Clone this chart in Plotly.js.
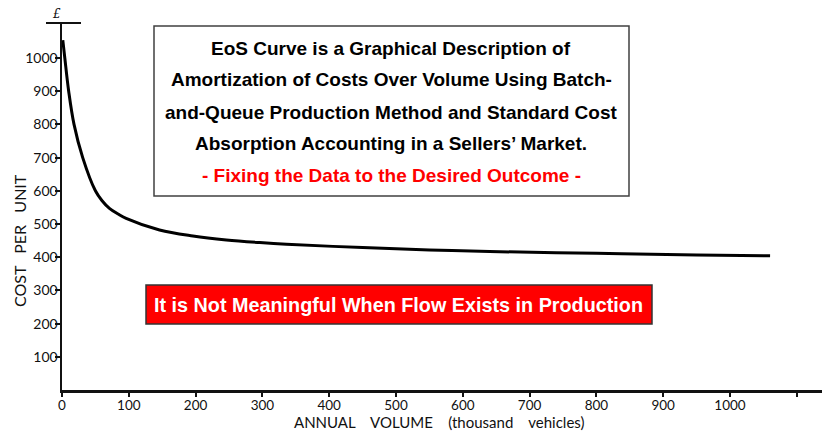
<!DOCTYPE html>
<html>
<head>
<meta charset="utf-8">
<script src="https://cdn.plot.ly/plotly-3.0.1.min.js"></script>
<style>html,body{margin:0;padding:0;background:#fff;}#chart{width:822px;height:432px;}</style>
</head>
<body>
<div id="chart"></div>
<script>
// Data
var volume = [1.2, 4.2, 10, 18, 31, 50, 60, 71, 84, 96, 146, 196, 246, 296, 336, 450, 550, 640, 800, 950, 1060];
var cost   = [1054, 1000, 900, 800, 700, 600, 570, 547, 530, 517, 482, 464, 452, 444, 439, 429, 422, 417, 412, 407, 404];
var xTickVals = [0, 100, 200, 300, 400, 500, 600, 700, 800, 900, 1000, 1100];
var xTickText = ['0', '100', '200', '300', '400', '500', '600', '700', '800', '900', '1000', ''];
var yTickVals = [100, 200, 300, 400, 500, 600, 700, 800, 900, 1000];
var yTickText = ['100', '200', '300', '400', '500', '600', '700', '800', '900', '1000'];
var titleLines = [
  'EoS Curve is a Graphical Description of',
  'Amortization of Costs Over Volume Using Batch-',
  'and-Queue Production Method and Standard Cost',
  'Absorption Accounting in a Sellers\u2019 Market.'
];
var titleRedLine = '- Fixing the Data to the Desired Outcome -';
var bannerText = 'It is Not Meaningful When Flow Exists in Production';
var xTitle = 'ANNUAL\u00a0\u00a0\u00a0\u00a0VOLUME\u00a0\u00a0\u00a0\u00a0(thousand\u00a0\u00a0\u00a0\u00a0vehicles)';
var yTitle = 'COST\u00a0\u00a0\u00a0PER\u00a0\u00a0\u00a0UNIT';

// layout geometry (pixels)
var L = 62, R = 0, T = 23, B = 42, W = 822, H = 432;
var pw = W - L - R, ph = H - T - B;
function px(x) { return (x - L) / pw; }
function py(y) { return (H - B - y) / ph; }

var trace = {
  x: volume, y: cost, type: 'scatter', mode: 'lines',
  line: {color: '#000', width: 3, shape: 'spline', smoothing: 1},
  cliponaxis: false, hoverinfo: 'skip'
};

var annotations = [];
var lineY = [48, 80, 112, 143];
titleLines.forEach(function (t, i) {
  annotations.push({xref: 'paper', yref: 'paper', x: px(391), y: py(lineY[i]), text: '<b>' + t + '</b>',
    showarrow: false, xanchor: 'center', yanchor: 'middle',
    font: {family: 'Liberation Sans, Arial, sans-serif', size: 19, color: '#000'}});
});
annotations.push({xref: 'paper', yref: 'paper', x: px(391), y: py(175), text: '<b>' + titleRedLine + '</b>',
  showarrow: false, xanchor: 'center', yanchor: 'middle',
  font: {family: 'Liberation Sans, Arial, sans-serif', size: 19, color: '#ff0000'}});
annotations.push({xref: 'paper', yref: 'paper', x: px(398), y: py(305), text: '<b>' + bannerText + '</b>',
  showarrow: false, xanchor: 'center', yanchor: 'middle',
  font: {family: 'Liberation Sans, Arial, sans-serif', size: 19.8, color: '#fff'}});
// axis titles
annotations.push({xref: 'paper', yref: 'paper', x: px(439), y: py(422), text: xTitle,
  showarrow: false, xanchor: 'center', yanchor: 'middle',
  font: {family: 'Lato, sans-serif', size: 15, color: '#111'}});
annotations.push({xref: 'paper', yref: 'paper', x: px(19.5), y: py(240.5), text: yTitle, textangle: -90,
  showarrow: false, xanchor: 'center', yanchor: 'middle',
  font: {family: 'Lato, sans-serif', size: 16, color: '#111'}});
annotations.push({xref: 'paper', yref: 'paper', x: px(56), y: py(14), text: '<i>\u00a3</i>',
  showarrow: false, xanchor: 'center', yanchor: 'middle',
  font: {family: 'DejaVu Serif, serif', size: 12, color: '#111'}});

var shapes = [
  {type: 'rect', xref: 'paper', yref: 'paper', x0: px(154), x1: px(629), y0: py(196), y1: py(26),
    line: {color: '#404040', width: 1.5}, fillcolor: '#fff', layer: 'below'},
  {type: 'rect', xref: 'paper', yref: 'paper', x0: px(146), x1: px(652), y0: py(324), y1: py(285),
    line: {color: '#333', width: 1.5}, fillcolor: '#ff0000', layer: 'above'},
  {type: 'line', xref: 'paper', yref: 'paper', x0: px(46), x1: px(81), y0: py(23), y1: py(23),
    line: {color: '#111', width: 2}}
];

var layout = {
  width: W, height: H,
  margin: {l: L, r: R, t: T, b: B, pad: 0},
  paper_bgcolor: '#fff', plot_bgcolor: '#fff',
  showlegend: false,
  font: {family: 'Lato, sans-serif', size: 14, color: '#111'},
  xaxis: {range: [0, (W - L - R) / 0.668], showgrid: false, zeroline: false,
    showline: true, linecolor: '#111', linewidth: 2.5,
    ticks: 'outside', ticklen: 4, tickwidth: 2, tickcolor: '#111',
    ticklabelstandoff: -3,
    tickmode: 'array', tickvals: xTickVals, ticktext: xTickText,
    tickfont: {family: 'Lato, sans-serif', size: 13.5, color: '#111'}},
  yaxis: {range: [0, ph / 0.332], showgrid: false, zeroline: false,
    showline: true, linecolor: '#111', linewidth: 2.5,
    ticks: 'outside', ticklen: 5, tickwidth: 2, tickcolor: '#111',
    ticklabelstandoff: -6,
    tickmode: 'array', tickvals: yTickVals, ticktext: yTickText,
    tickfont: {family: 'Lato, sans-serif', size: 14, color: '#111'}},
  shapes: shapes,
  annotations: annotations
};

Plotly.newPlot('chart', [trace], layout, {staticPlot: true, displayModeBar: false});
</script>
</body>
</html>
